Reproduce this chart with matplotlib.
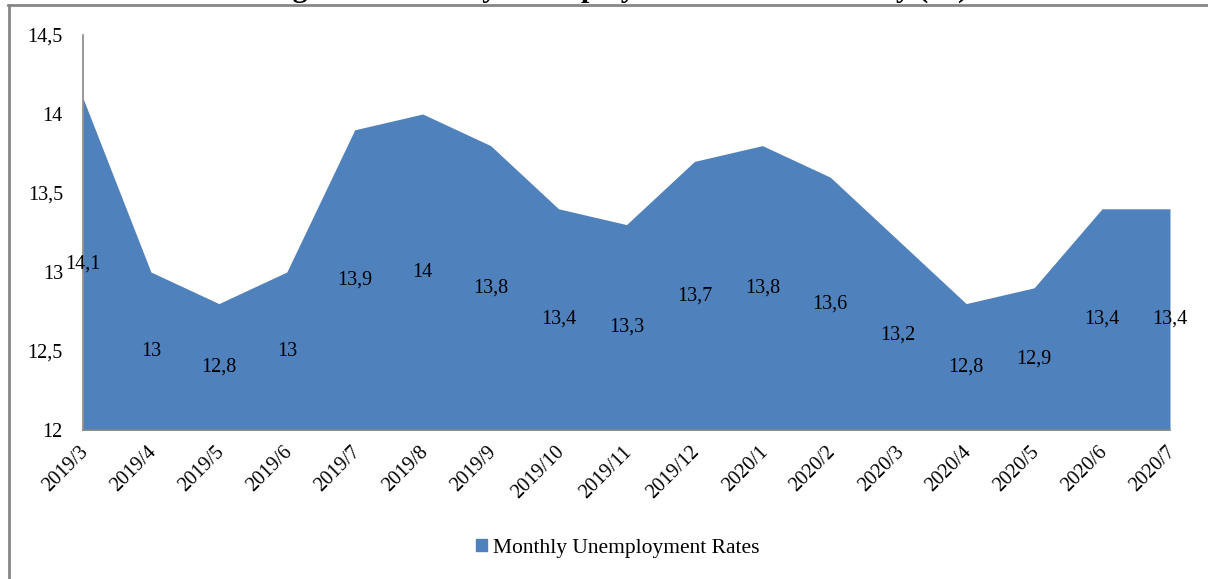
import numpy as np
import matplotlib.pyplot as plt
import matplotlib.transforms as mtransforms
from matplotlib.lines import Line2D
from matplotlib.patches import Patch

months = ['2019/3', '2019/4', '2019/5', '2019/6', '2019/7', '2019/8', '2019/9',
          '2019/10', '2019/11', '2019/12', '2020/1', '2020/2', '2020/3',
          '2020/4', '2020/5', '2020/6', '2020/7']
rates = [14.1, 13, 12.8, 13, 13.9, 14, 13.8, 13.4, 13.3, 13.7, 13.8, 13.6,
         13.2, 12.8, 12.9, 13.4, 13.4]
y_ticks = [12, 12.5, 13, 13.5, 14, 14.5]

W, H = 1208, 579
plt.rcParams['font.family'] = ['Liberation Serif', 'DejaVu Serif']
fig = plt.figure(figsize=(W / 100, H / 100), dpi=100)
ax = fig.add_axes([83 / W, 1 - 430 / H, (1170 - 83) / W, (430 - 35) / H])

blue = '#4F81BD'
gray = '#868686'
fs = 14.5
x = np.arange(len(months))
base = 12
ax.fill_between(x, base, rates, color=blue, linewidth=0)
ax.set_xlim(0, len(months) - 1)
ax.set_ylim(12, 14.5)

# excel puts the labels halfway up the area
for xi, v in zip(x, rates):
    lab = ('%g' % v).replace('.', ',')
    ax.text(xi, (base + v) / 2, lab, ha='center', va='center', fontsize=fs,
            clip_on=False)

ax.set_yticks(y_ticks)
ax.set_yticklabels([('%g' % t).replace('.', ',') for t in y_ticks], fontsize=fs)
ax.set_xticks(x)
ax.set_xticklabels(months, fontsize=fs, rotation=45, ha='right',
                   rotation_mode='anchor')
ax.tick_params(axis='both', length=0)
ax.tick_params(axis='y', pad=14.5)
ax.tick_params(axis='x', pad=9)
shift = mtransforms.ScaledTranslation(-4 / 100, 0, fig.dpi_scale_trans)
for lbl in ax.get_xticklabels():
    lbl.set_transform(lbl.get_transform() + shift)
for s in ['top', 'right']:
    ax.spines[s].set_visible(False)
for s in ['left', 'bottom']:
    ax.spines[s].set_color(gray)
    ax.spines[s].set_linewidth(1.2)

fig.legend(handles=[Patch(color=blue)], labels=['Monthly Unemployment Rates'],
           loc='center', bbox_to_anchor=(618 / W, 1 - 548 / H), frameon=False,
           fontsize=15.5, handlelength=0.5, handleheight=0.5, handletextpad=0.3)

# outer frame (partly cut off)
fig.add_artist(Line2D([8 / W, 1], [1 - 5 / H, 1 - 5 / H], color=gray, lw=2))
fig.add_artist(Line2D([9 / W, 9 / W], [0, 1 - 5 / H], color=gray, lw=2))

# title sits above the visible area, only descenders show
fig.text(617 / W, 1 + 3.5 / H, 'Figure 1. Monthly Unemployment Rates in Turkey (%)',
         ha='center', va='baseline', fontsize=21.5, fontweight='bold')

fig.savefig('out.png', dpi=100)
